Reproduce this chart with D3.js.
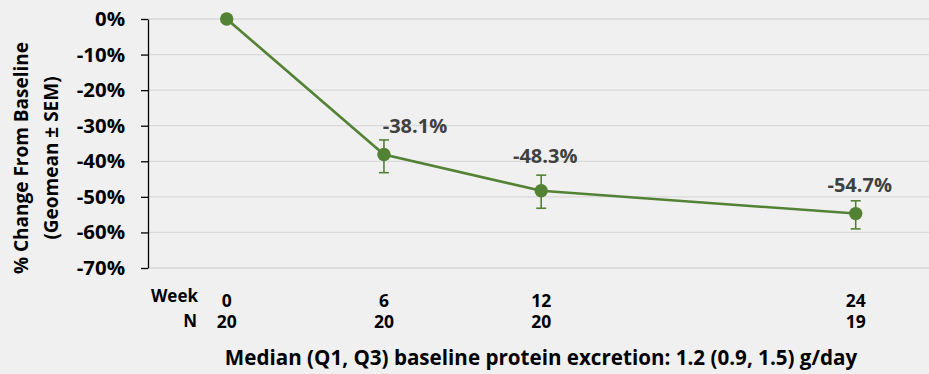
<!DOCTYPE html>
<html>
<head>
<meta charset="utf-8">
<script src="https://cdn.jsdelivr.net/npm/d3@7"></script>
<style>
  html, body { margin: 0; padding: 0; background: #f0f0f0; }
  svg { display: block; font-family: "Open Sans", "Liberation Sans", Arial, sans-serif; font-weight: bold; }
</style>
</head>
<body>
<svg id="chart" width="929" height="374"></svg>
<script>
// Study visits and the patients measured at each one
const weeks = [0, 6, 12, 24];
const nPatients = [20, 20, 20, 19];

// Geometric-mean % change from baseline, with ± SEM bounds
const pctChange = [0, -38.1, -48.3, -54.7];
const semUpper = [null, -34.0, -43.9, -51.1];
const semLower = [null, -43.2, -53.2, -59.0];

// Y axis ticks
const yTicks = [0, -10, -20, -30, -40, -50, -60, -70];

const yTitleLines = ["% Change From Baseline", "(Geomean ± SEM)"];
const footnote = "Median (Q1, Q3) baseline protein excretion: 1.2 (0.9, 1.5) g/day";

// Layout
const W = 929, H = 374;
const plot = { left: 148, right: 929, top: 19, bottom: 268 };
const xStart = 226.7, xEnd = 855.7;
const green = "#548235";
const font = "'Open Sans', 'Liberation Sans', Arial, sans-serif";
// value-label nudges (dx, dy) relative to each marker
const labelNudge = [[0, 0], [31, -22], [4, -28], [4, -22]];

const svg = d3.select("#chart");

const x = d3.scaleLinear().domain([0, 24]).range([xStart, xEnd]);
const y = d3.scaleLinear().domain([-70, 0]).range([plot.bottom, plot.top]);

const rows = weeks.map((w, i) => ({
  week: w, n: nPatients[i], v: pctChange[i], hi: semUpper[i], lo: semLower[i], i
}));

// Horizontal gridlines
svg.append("g")
  .selectAll("line")
  .data(yTicks)
  .join("line")
  .attr("x1", plot.left).attr("x2", plot.right)
  .attr("y1", d => y(d)).attr("y2", d => y(d))
  .attr("stroke", "#d9d9d9")
  .attr("stroke-width", 1.3);

// Y axis
const yAxis = svg.append("g")
  .attr("transform", `translate(${plot.left},0)`)
  .call(d3.axisLeft(y)
    .tickValues(yTicks)
    .tickSize(7)
    .tickSizeOuter(0)
    .tickPadding(16)
    .tickFormat(d => d + "%"));
yAxis.select(".domain").attr("stroke", "#000").attr("stroke-width", 1.3);
yAxis.selectAll(".tick line").attr("stroke", "#000").attr("stroke-width", 1.3);
yAxis.selectAll(".tick text")
  .attr("fill", "#000")
  .style("font-family", font)
  .style("font-weight", "bold")
  .style("font-size", "20.4px");

// Y axis title (two lines, rotated)
const yTitle = svg.append("text")
  .attr("transform", "translate(0,158) rotate(-90)")
  .attr("text-anchor", "middle")
  .style("font-size", "19px")
  .attr("fill", "#000");
yTitle.selectAll("tspan")
  .data(yTitleLines)
  .join("tspan")
  .attr("x", 0)
  .attr("y", (d, i) => 27.5 + i * 30)
  .text(d => d);

// Connecting line
svg.append("path")
  .datum(rows)
  .attr("fill", "none")
  .attr("stroke", green)
  .attr("stroke-width", 2.6)
  .attr("d", d3.line().x(d => x(d.week)).y(d => y(d.v)));

// Error bars
const eb = svg.append("g")
  .selectAll("g")
  .data(rows.filter(d => d.hi !== null))
  .join("g")
  .attr("stroke", green)
  .attr("stroke-width", 1.6);
eb.append("line")
  .attr("x1", d => x(d.week)).attr("x2", d => x(d.week))
  .attr("y1", d => y(d.hi)).attr("y2", d => y(d.lo));
eb.append("line")
  .attr("x1", d => x(d.week) - 5).attr("x2", d => x(d.week) + 5)
  .attr("y1", d => y(d.hi)).attr("y2", d => y(d.hi));
eb.append("line")
  .attr("x1", d => x(d.week) - 5).attr("x2", d => x(d.week) + 5)
  .attr("y1", d => y(d.lo)).attr("y2", d => y(d.lo));

// Markers
svg.append("g")
  .selectAll("circle")
  .data(rows)
  .join("circle")
  .attr("cx", d => x(d.week))
  .attr("cy", d => y(d.v))
  .attr("r", 6.7)
  .attr("fill", green);

// Value labels
svg.append("g")
  .selectAll("text")
  .data(rows.filter(d => d.week !== 0))
  .join("text")
  .attr("x", d => x(d.week) + labelNudge[d.i][0])
  .attr("y", d => y(d.v) + labelNudge[d.i][1])
  .attr("text-anchor", "middle")
  .attr("fill", "#404040")
  .style("font-size", "20px")
  .text(d => d.v.toFixed(1) + "%");

// Week / N table under the axis
svg.append("text")
  .attr("x", 198).attr("y", 301.5)
  .attr("text-anchor", "end")
  .style("font-size", "17px")
  .text("Week");
svg.append("text")
  .attr("x", 197).attr("y", 327.3)
  .attr("text-anchor", "end")
  .style("font-size", "17px")
  .text("N");
svg.append("g")
  .selectAll("text")
  .data(rows)
  .join("text")
  .attr("x", d => x(d.week))
  .attr("y", 307.3)
  .attr("text-anchor", "middle")
  .style("font-size", "17.5px")
  .text(d => d.week);
svg.append("g")
  .selectAll("text")
  .data(rows)
  .join("text")
  .attr("x", d => x(d.week))
  .attr("y", 327.8)
  .attr("text-anchor", "middle")
  .style("font-size", "17.5px")
  .text(d => d.n);

// Footnote
svg.append("text")
  .attr("x", 541)
  .attr("y", 364.5)
  .attr("text-anchor", "middle")
  .style("font-size", "20.6px")
  .text(footnote);
</script>
</body>
</html>
